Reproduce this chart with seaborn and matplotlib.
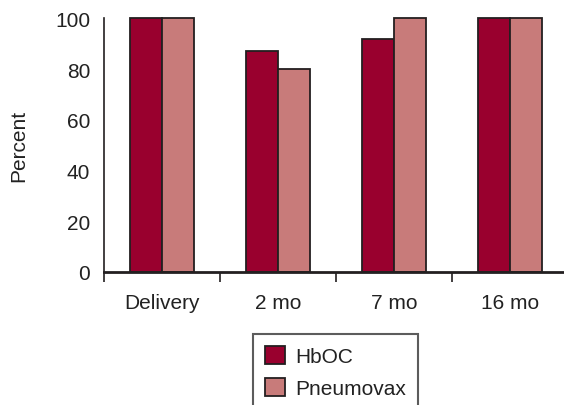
import matplotlib
matplotlib.use("Agg")
import matplotlib.pyplot as plt
from matplotlib.patches import Patch
from matplotlib.ticker import FixedLocator
import seaborn as sns
import pandas as pd

# Seroconversion by time point
timepoints = ["Delivery", "2 mo", "7 mo", "16 mo"]
hboc = [100, 87, 92, 100]
pneumovax = [100, 80, 100, 100]
series_names = ["HbOC", "Pneumovax"]
colors = ["#99002E", "#C87B7A"]
edge = "#231F20"

df = pd.DataFrame({
    "timepoint": timepoints * 2,
    "percent": hboc + pneumovax,
    "vaccine": [series_names[0]] * len(timepoints) + [series_names[1]] * len(timepoints),
})

sns.set_style("white")
plt.rcParams["font.family"] = ["Liberation Sans", "DejaVu Sans"]
fs = 15
plt.rcParams["font.size"] = fs

fig = plt.figure(figsize=(5.64, 4.06), dpi=100)
ax = fig.add_axes([104 / 564, 133 / 406, 464 / 564, (273 - 19.3) / 406])

sns.barplot(data=df, x="timepoint", y="percent", hue="vaccine",
            palette=colors, order=timepoints, hue_order=series_names,
            width=0.56, edgecolor=edge, linewidth=1.3, saturation=1,
            legend=False, ax=ax)
for p in ax.patches:
    p.set_clip_on(False)

ax.set_xlim(-0.5, 3.5)
ax.set_ylim(0, 100)
ax.set_yticks([0, 20, 40, 60, 80, 100])
ax.set_xlabel("")
ax.set_ylabel("Percent", fontsize=fs, color="#222222")
ax.yaxis.set_label_coords(-0.163, 0.5)

for side in ["top", "right"]:
    ax.spines[side].set_visible(False)
ax.spines["left"].set_color(edge)
ax.spines["left"].set_linewidth(1.2)
ax.spines["bottom"].set_color(edge)
ax.spines["bottom"].set_linewidth(2.0)
ax.spines["bottom"].set_zorder(5)

ax.tick_params(axis="y", direction="out", length=8, width=1.2, color="#555555",
               pad=2, labelsize=fs, labelcolor="#222222")
ax.tick_params(axis="x", which="major", length=0, pad=15, labelsize=fs,
               labelcolor="#222222")
ax.xaxis.set_minor_locator(FixedLocator([-0.5, 0.5, 1.5, 2.5]))
ax.tick_params(axis="x", which="minor", direction="out", length=7.5, width=1.2,
               color=edge, bottom=True)

handles = [Patch(facecolor=c, edgecolor=edge, linewidth=1.3) for c in colors]
leg = fig.legend(handles, series_names, loc="upper left",
                 bbox_to_anchor=(253 / 564, 1 - 335 / 406),
                 bbox_transform=fig.transFigure,
                 fontsize=fs, frameon=True, fancybox=False,
                 handlelength=0.95, handleheight=0.95, handletextpad=0.5,
                 labelspacing=0.55, borderpad=0.58, borderaxespad=0)
leg.get_frame().set_edgecolor("#333333")
leg.get_frame().set_linewidth(1.5)
for t in leg.get_texts():
    t.set_color("#222222")

fig.savefig("out.png", dpi=100)
